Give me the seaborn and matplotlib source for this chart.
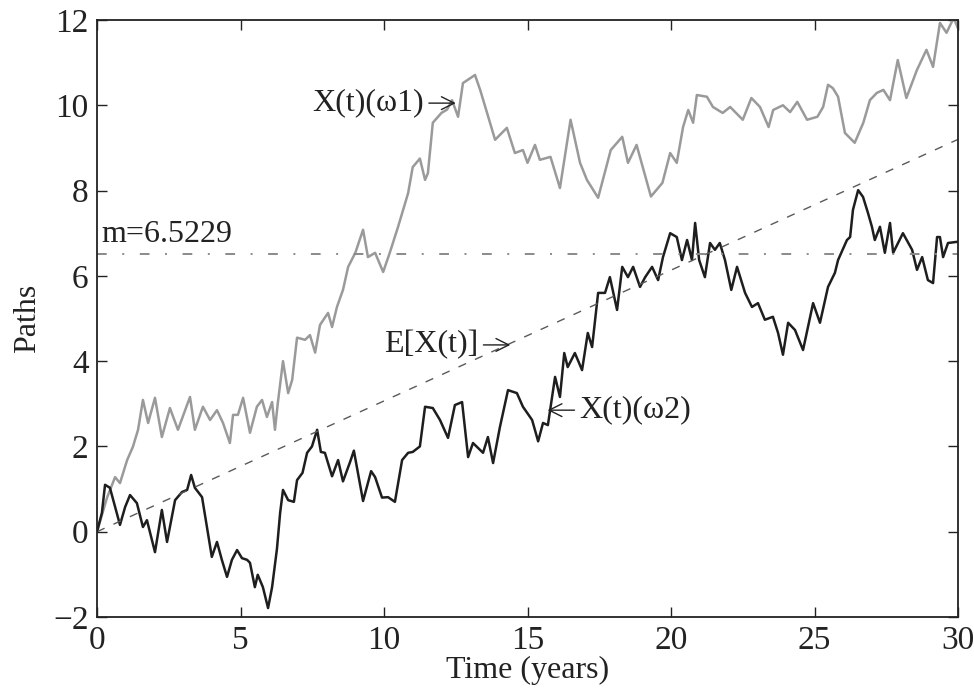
import numpy as np
import pandas as pd
import matplotlib
matplotlib.use("Agg")
import matplotlib.pyplot as plt
import seaborn as sns

# Sample path X(t)(omega1)
t_w1 = [0, 0.35, 0.63, 0.8, 1.05, 1.25, 1.43, 1.6, 1.78, 2.02, 2.26, 2.54, 2.82, 3.24,
        3.41, 3.69, 3.94, 4.18, 4.39, 4.63, 4.74, 4.91, 5.09, 5.33, 5.57, 5.75, 5.92,
        6.1, 6.2, 6.3, 6.48, 6.66, 6.8, 6.97, 7.25, 7.42, 7.6, 7.77, 8.05, 8.19, 8.36,
        8.57, 8.75, 9.0, 9.27, 9.44, 9.69, 9.97, 10.2, 10.49, 10.84, 11.0, 11.25, 11.43,
        11.53, 11.7, 12.0, 12.2, 12.37, 12.58, 12.75, 13.17, 13.35, 13.6, 13.87, 14.28,
        14.56, 14.84, 15.0, 15.26, 15.43, 15.8, 16.13, 16.5, 16.83, 17.07, 17.46, 17.9,
        18.3, 18.5, 18.8, 19.3, 19.7, 19.97, 20.2, 20.42, 20.6, 20.77, 20.9, 21.25,
        21.46, 21.8, 22.06, 22.5, 22.8, 23.1, 23.4, 23.56, 23.9, 24.15, 24.4, 24.74,
        25.1, 25.3, 25.47, 25.64, 25.82, 26.06, 26.4, 26.7, 26.93, 27.17, 27.4, 27.63,
        27.9, 28.2, 28.57, 28.9, 29.13, 29.37, 29.6, 29.85, 30.0]
x_w1 = [0, 0.8, 1.28, 1.14, 1.68, 1.99, 2.39, 3.09, 2.55, 3.14, 2.22, 2.9, 2.39, 3.16,
        2.39, 2.93, 2.62, 2.85, 2.55, 2.08, 2.74, 2.74, 3.14, 2.32, 2.93, 3.09, 2.69,
        3.04, 2.39, 3.02, 4.0, 3.25, 3.56, 4.55, 4.5, 4.61, 4.2, 4.85, 5.13, 4.8, 5.27,
        5.67, 6.21, 6.54, 7.08, 6.44, 6.54, 6.09, 6.54, 7.15, 7.94, 8.55, 8.75, 8.25,
        8.41, 9.59, 9.82, 9.9, 10.12, 9.73, 10.52, 10.71, 10.36, 9.8, 9.19, 9.47,
        8.88, 8.95, 8.65, 9.07, 8.72, 8.79, 8.06, 9.66, 8.65, 8.25, 7.83, 8.95,
        9.26, 8.65, 9.07, 7.86, 8.18, 8.88, 8.65, 9.49, 9.89, 9.59, 10.24, 10.2,
        9.96, 9.82, 9.96, 9.66, 10.17, 9.96, 9.49, 9.89, 10.0, 9.84, 10.08, 9.66,
        9.73, 9.96, 10.48, 10.4, 10.2, 9.35, 9.12, 9.59, 10.12, 10.29, 10.36, 10.12,
        11.06, 10.17, 10.83, 11.3, 10.9, 11.93, 11.7, 12.05, 11.8]

# Sample path X(t)(omega2)
t_w2 = [0, 0.17, 0.28, 0.45, 0.63, 0.8, 0.98, 1.15, 1.39, 1.6, 1.74, 2.02, 2.2, 2.26,
        2.44, 2.72, 2.96, 3.14, 3.28, 3.41, 3.66, 3.83, 4.0, 4.18, 4.35, 4.53, 4.7,
        4.88, 5.05, 5.23, 5.33, 5.5, 5.6, 5.78, 5.96, 6.1, 6.27, 6.38, 6.48, 6.66,
        6.86, 6.97, 7.16, 7.32, 7.49, 7.67, 7.8, 7.94, 8.19, 8.4, 8.57, 8.82, 8.95,
        9.27, 9.55, 9.69, 9.93, 10.14, 10.38, 10.63, 10.84, 11.0, 11.25, 11.43, 11.7,
        11.95, 12.23, 12.47, 12.72, 12.93, 13.1, 13.45, 13.62, 13.8, 14.04, 14.32,
        14.63, 14.84, 15.16, 15.37, 15.54, 15.71, 15.96, 16.13, 16.28, 16.4, 16.65,
        16.9, 17.1, 17.25, 17.46, 17.7, 17.87, 18.12, 18.3, 18.5, 18.68, 18.92, 19.1,
        19.34, 19.55, 19.72, 19.97, 20.2, 20.38, 20.56, 20.73, 20.84, 20.98, 21.18,
        21.36, 21.53, 21.7, 21.88, 22.1, 22.3, 22.58, 22.82, 23.03, 23.27, 23.55,
        23.73, 23.9, 24.08, 24.32, 24.6, 24.77, 24.95, 25.19, 25.47, 25.71, 25.82,
        26.13, 26.24, 26.34, 26.52, 26.69, 26.86, 27.0, 27.1, 27.28, 27.45, 27.63,
        27.74, 28.08, 28.4, 28.57, 28.75, 28.95, 29.13, 29.27, 29.37, 29.48, 29.65, 30.0]
x_w2 = [0, 0.44, 1.1, 1.03, 0.58, 0.16, 0.58, 0.86, 0.67, 0.11, 0.27, -0.48, 0.27, 0.51,
        -0.24, 0.74, 0.93, 0.98, 1.33, 1.03, 0.81, 0.11, -0.59, -0.24, -0.66, -1.06, -0.66,
        -0.43, -0.62, -0.66, -0.73, -1.3, -1.01, -1.3, -1.79, -1.3, -0.4, 0.44, 0.98, 0.74,
        0.7, 1.21, 1.38, 1.85, 2.0, 2.39, 1.87, 1.85, 1.3, 1.68, 1.18, 1.64, 1.9,
        0.72, 1.42, 1.28, 0.8, 0.81, 0.7, 1.68, 1.85, 1.87, 2.0, 2.93, 2.9,
        2.62, 2.2, 2.97, 3.04, 1.75, 2.08, 1.85, 2.22, 1.61, 2.46, 3.32,
        3.25, 2.93, 2.62, 2.12, 2.55, 2.5, 3.63, 3.16, 4.19, 3.86, 4.19,
        3.79, 4.66, 4.33, 5.6, 5.6, 5.97, 5.2, 6.21, 5.97, 6.21, 5.74, 5.97,
        6.21, 5.9, 6.44, 7.0, 6.91, 6.37, 6.84, 6.37, 7.24, 6.37, 5.97,
        6.77, 6.61, 6.77, 6.37, 5.67, 6.21, 5.6, 5.27, 5.36, 4.97, 5.04,
        4.66, 4.15, 4.9, 4.73, 4.26, 4.8, 5.36, 4.9, 5.74, 6.07, 6.37,
        6.84, 6.91, 7.55, 8.01, 7.85, 7.48, 7.15, 6.84, 7.15, 6.54, 7.24,
        6.54, 7.0, 6.61, 6.14, 6.44, 5.9, 5.83, 6.91, 6.91, 6.44, 6.77, 6.8]

# Expected value E[X(t)] and long-run mean level
t_mean_path = [0, 30]
x_mean_path = [0, 9.2]
m_level = 6.5229

x_ticks = [0, 5, 10, 15, 20, 25, 30]
y_ticks = [-2, 0, 2, 4, 6, 8, 10, 12]

sns.set_theme(style="ticks")
plt.rcParams["font.family"] = ["Liberation Serif", "DejaVu Serif"]
plt.rcParams["xtick.direction"] = "in"
plt.rcParams["ytick.direction"] = "in"

fig = plt.figure(figsize=(9.74, 6.91), dpi=100)
ax = fig.add_axes([0.0996, 0.1071, 0.884, 0.864])

df1 = pd.DataFrame({"t": t_w1, "x": x_w1})
df2 = pd.DataFrame({"t": t_w2, "x": x_w2})
dfe = pd.DataFrame({"t": t_mean_path, "x": x_mean_path})

sns.lineplot(data=df1, x="t", y="x", ax=ax, color="#9a9a9a", linewidth=1.8,
             estimator=None, sort=False)
sns.lineplot(data=df2, x="t", y="x", ax=ax, color="#1e1e1e", linewidth=1.8,
             estimator=None, sort=False)
sns.lineplot(data=dfe, x="t", y="x", ax=ax, color="#5a5a5a", linewidth=1.0,
             estimator=None, sort=False)
ax.lines[-1].set_dashes([6, 7])
ax.axhline(m_level, color="#8a8a8a", linewidth=1.4, linestyle=(0, (5, 8, 1, 8)))

ax.set_xlim(0, 30)
ax.set_ylim(-2, 12)
ax.set_xticks(x_ticks)
ax.set_yticks(y_ticks)
ax.tick_params(axis="both", which="both", direction="in", length=7, width=1,
               top=True, right=True, labelsize=24, pad=6, colors="#222222")
for s in ax.spines.values():
    s.set_linewidth(1.3)
    s.set_color("#222222")
    s.set_visible(True)

ax.set_xlabel("Time (years)", fontsize=23, labelpad=0, color="#222222")
ax.set_ylabel("Paths", fontsize=23, labelpad=8, color="#222222")

fs = 23
arrow = dict(arrowstyle="->", color="#222222", lw=1.0, shrinkA=1, shrinkB=0)
ax.annotate("X(t)(ω1)", xy=(12.5, 10.05), xytext=(11.4, 10.05), ha="right",
            va="center", fontsize=fs, color="#222222", arrowprops=arrow)
ax.annotate("E[X(t)]", xy=(14.4, 4.38), xytext=(13.3, 4.38), ha="right",
            va="center", fontsize=fs, color="#222222", arrowprops=arrow)
ax.annotate("X(t)(ω2)", xy=(15.7, 2.85), xytext=(16.8, 2.85), ha="left",
            va="center", fontsize=fs, color="#222222", arrowprops=arrow)
ax.text(0.15, 6.62, "m=6.5229", ha="left", va="bottom", fontsize=fs, color="#222222")

fig.savefig("out.png", dpi=100)
